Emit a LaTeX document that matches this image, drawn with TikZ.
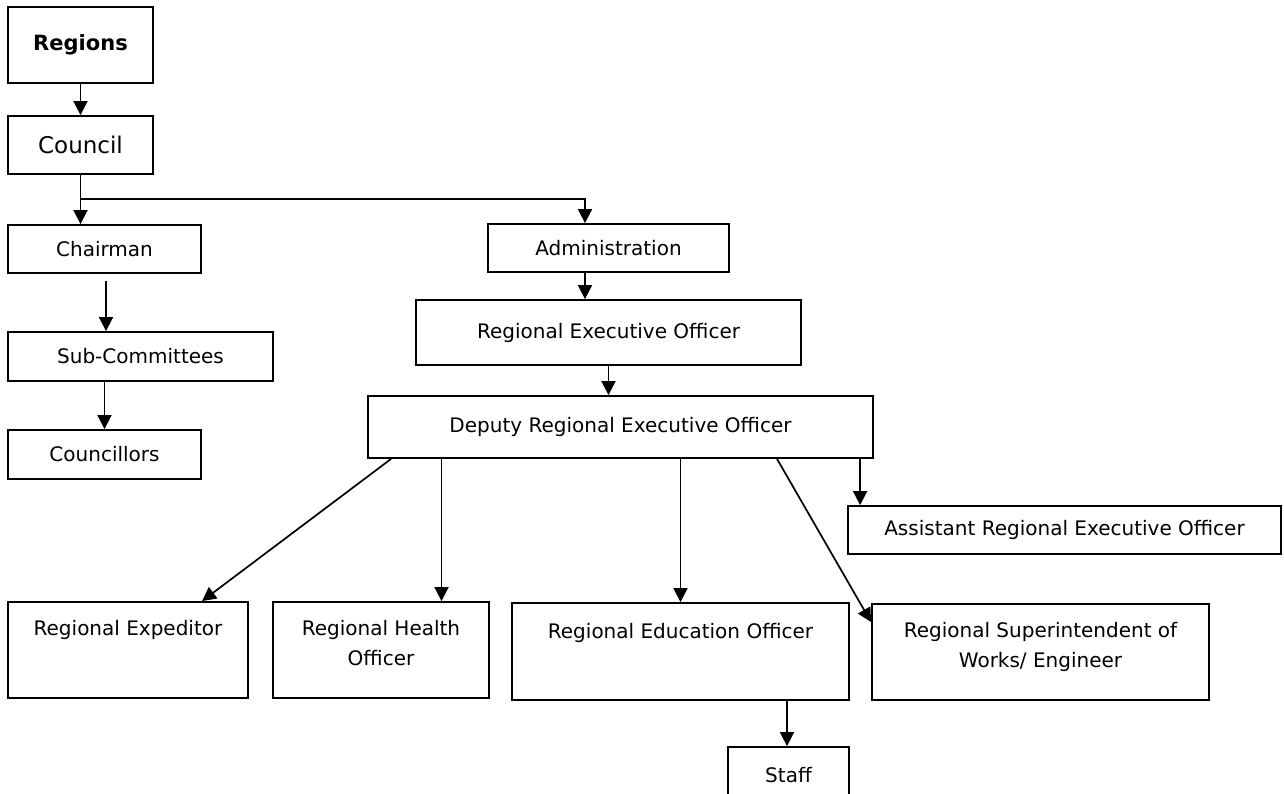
\documentclass[tikz,border=0pt]{standalone}
\usepackage{fontspec}
\setmainfont{DejaVu Sans}
\usetikzlibrary{arrows.meta,calc}

\tikzset{
  box/.style={draw, line width=1.8pt, rectangle, inner sep=0pt, align=center,
    font=\fontsize{20}{29.5}\selectfont},
  bigbox/.style={box, font=\fontsize{23}{28}\selectfont},
  toptext/.style={anchor=north, inner sep=0pt, align=center,
    font=\fontsize{20}{29.5}\selectfont},
  link/.style={line width=1.7pt},
  arr/.style={link, -{Triangle[width=14pt,length=14pt]}},
}

\begin{document}
\begin{tikzpicture}[x=1pt,y=-1pt]
\useasboundingbox (0,0) rectangle (1284,794);
\clip (0,0) rectangle (1284,794);

% left column: regions, council and the council's own bodies
\node[bigbox, minimum width=145, minimum height=76] (regions) at (80.5,45)
  {\fontsize{21}{26}\selectfont\textbf{Regions}};
\node[bigbox, minimum width=145, minimum height=58] (council) at (80.5,145) {Council};
\node[box, minimum width=193, minimum height=48] (chair) at (104.5,249) {Chairman};
\node[box, minimum width=265, minimum height=49] (sub) at (140.5,356.5) {Sub-Committees};
\node[box, minimum width=193, minimum height=49] (councillors) at (104.5,454.5) {Councillors};

% administration branch
\node[box, minimum width=241, minimum height=48] (admin) at (608.5,248) {Administration};
\node[box, minimum width=385, minimum height=65] (reo) at (608.5,332.5) {Regional Executive Officer};
\node[box, minimum width=505, minimum height=62] (dreo) at (620.5,427) {Deputy Regional Executive Officer};
\node[box, minimum width=433, minimum height=48] (assist) at (1064.5,530) {Assistant Regional Executive Officer};

% officers reporting to the deputy
\node[box, minimum width=240, minimum height=96] (exped) at (128,650) {};
\node[box, minimum width=216, minimum height=96] (health) at (381,650) {};
\node[box, minimum width=337, minimum height=97] (edu) at (680.5,651.5) {};
\node[box, minimum width=337, minimum height=96] (super) at (1040.5,652) {};
\node[box, minimum width=121, minimum height=56] (staff) at (788.5,775) {Staff};

\node[toptext] (expedtxt) at ($(exped.north)+(0,19)$) {Regional Expeditor};
\node[toptext] (healthtxt) at ($(health.north)+(0,19)$) {Regional Health\\Officer};
\node[toptext] (edutxt) at ($(edu.north)+(0,21)$) {Regional Education Officer};
\node[toptext] (supertxt) at ($(super.north)+(0,19)$) {Regional Superintendent of\\Works/ Engineer};

% connectors
\coordinate (fork) at (80.5,199);
\draw[arr] (regions.south) -- (council.north);
\draw[arr] (council.south) -- (council.south |- chair.north);
\draw[arr] (fork) -| ([xshift=-23.5pt]admin.north);
\draw[arr] ([xshift=1.5pt,yshift=-7pt]chair.south) -- ([xshift=1.5pt]chair.south |- sub.north);
\draw[arr] (councillors.north |- sub.south) -- (councillors.north);
\draw[arr] ([xshift=-23.5pt]admin.south) -- ([xshift=-23.5pt]admin.south |- reo.north);
\draw[arr] (reo.south) -- (reo.south |- dreo.north);
\draw[arr] ([xshift=24pt]dreo.south west) -- ([xshift=74pt]exped.north);
\draw[arr] ([xshift=60.5pt]health.north |- dreo.south) -- ([xshift=60.5pt]health.north);
\draw[arr] (edu.north |- dreo.south) -- (edu.north);
\draw[arr] ([xshift=156.5pt]dreo.south) -- ([yshift=-19pt]super.north west);
\draw[arr] ([xshift=13pt]assist.north west |- dreo.south) -- ([xshift=13pt]assist.north west);
\draw[arr] ([xshift=-1.5pt]staff.north |- edu.south) -- ([xshift=-1.5pt]staff.north);
\end{tikzpicture}
\end{document}
